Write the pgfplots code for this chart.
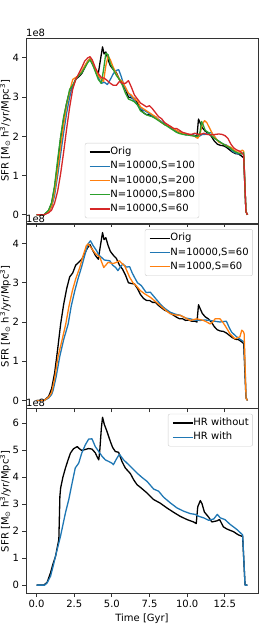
\documentclass[border=0pt]{standalone}
\usepackage{fontspec}
\setmainfont{DejaVu Sans}
\usepackage{pgfplots}
\pgfplotsset{compat=1.18}
\usepackage{pgfplotstable}
\definecolor{c0}{HTML}{1F77B4}
\definecolor{c1}{HTML}{FF7F0E}
\definecolor{c2}{HTML}{2CA02C}
\definecolor{c3}{HTML}{D62728}

\pgfplotstableread{
t v
0 0
0.5 0
0.8 0.1
1.0 0.3
1.2 0.7
1.4 1.3
1.6 1.95
1.8 2.45
2.0 2.85
2.2 3.15
2.4 3.25
2.6 3.45
2.8 3.52
3.0 3.6
3.2 3.75
3.4 3.9
3.55 3.97
3.7 3.85
3.9 3.7
4.1 3.6
4.2 3.85
4.38 4.28
4.48 4.1
4.6 4.15
4.75 3.95
4.9 3.8
5.1 3.7
5.3 3.62
5.5 3.45
5.7 3.35
5.9 3.2
6.1 3.0
6.3 2.98
6.5 2.97
6.7 2.85
6.9 2.7
7.1 2.6
7.3 2.55
7.5 2.55
7.7 2.5
7.9 2.5
8.1 2.42
8.3 2.36
8.5 2.3
8.7 2.27
8.9 2.22
9.1 2.17
9.3 2.12
9.5 2.08
9.7 2.08
9.9 2.04
10.1 2.05
10.3 2.02
10.5 2.02
10.65 2.0
10.75 2.44
10.85 2.35
11.0 2.22
11.2 2.13
11.4 2.08
11.6 2.0
11.8 1.88
12.0 1.8
12.2 1.77
12.4 1.76
12.6 1.72
12.8 1.66
13.0 1.6
13.2 1.56
13.4 1.55
13.6 1.5
13.75 1.45
13.9 0.08
14.0 0
}\orig

\pgfplotstableread{
t v
0 0
0.5 0
0.8 0.06
1.0 0.15
1.1 0.26
1.3 0.6
1.54 1.12
1.8 1.55
2.1 1.95
2.3 2.4
2.54 2.8
2.75 3.1
2.98 3.39
3.2 3.7
3.42 3.99
3.58 4.07
3.75 3.95
3.98 3.82
4.15 3.7
4.3 3.65
4.5 3.58
4.86 3.56
5.05 3.45
5.25 3.39
5.4 3.31
5.6 3.42
5.73 3.48
5.96 3.4
6.18 3.41
6.35 3.25
6.5 3.14
6.7 3.0
6.95 2.93
7.28 2.75
7.55 2.76
7.9 2.6
8.21 2.46
8.5 2.35
8.87 2.25
9.2 2.2
9.54 2.17
9.9 2.1
10.2 2.08
10.5 2.05
10.86 2.04
11.2 2.05
11.5 2.04
11.8 2.02
12.18 2.0
12.6 2.02
12.8 1.85
12.95 1.74
13.29 1.62
13.62 1.53
13.78 1.49
13.91 0.05
14.0 0
}\nsixty

\begin{document}
\begin{tikzpicture}
\pgfplotsset{
  every axis/.append style={
    scale only axis, width=232pt, height=184.67pt,
    xmin=-0.7, xmax=14.7,
    tick align=outside, tick pos=left,
    major tick length=3.5pt,
    axis line style={line width=0.8pt, black!80},
    every tick/.style={line width=0.8pt, black!80},
    xtick={0,2.5,5,7.5,10,12.5},
    /pgf/number format/assume math mode=true,
    tick label style={font=\fontsize{10}{12}\selectfont},
    label style={font=\fontsize{10}{12}\selectfont},
    ylabel={SFR [M\textsubscript{⊙} h\textsuperscript{3}/yr/Mpc\textsuperscript{3}]},
    ylabel style={at={(rel axis cs:0,0.5)}, anchor=south, inner sep=0pt, yshift=15pt},
    legend cell align=left,
    legend style={draw=black!20, rounded corners=2pt, fill=white, fill opacity=0.8, text opacity=1,
      font=\fontsize{10}{12}\selectfont, row sep=4.2pt, inner xsep=4pt, inner ysep=4pt,
      nodes={inner sep=0pt, text height=7.6pt, text depth=2.4pt},
      /tikz/every even column/.append style={column sep=8pt}},
    legend image code/.code={\draw[#1, line width=1.4pt] (0pt,0pt) -- (20pt,0pt);},
    every axis plot/.append style={line width=1.3pt, line join=round},
    after end axis/.code={\node[anchor=south west, inner sep=0pt, yshift=1.5pt, font=\fontsize{10}{12}\selectfont] at (rel axis cs:0,1) {1e8};},
  }
}
\path[use as bounding box] (0,0) rectangle (277pt,638pt);

% Panel 1
\begin{axis}[at={(26pt,414.83pt)}, anchor=south west,
  ymin=-0.214, ymax=4.494, ytick={0,1,2,3,4}, xticklabels={},
  legend style={at={(rel axis cs:0.5,0.027)}, anchor=south}]
\addplot[black] table[x=t,y=v] {\orig};
\addlegendentry{Orig}
\addplot[c0] coordinates {(0,0) (0.5,0) (0.8,0.08) (1.0,0.2) (1.2,0.5) (1.4,1.0) (1.6,1.55) (1.8,2.1) (2.0,2.6) (2.2,3.0) (2.4,3.3) (2.6,3.45) (2.8,3.55) (3.0,3.65) (3.2,3.78) (3.4,3.92) (3.55,3.97) (3.7,3.9) (3.9,3.7) (4.1,3.5) (4.3,3.35) (4.5,3.38) (4.7,3.32) (4.9,3.45) (5.1,3.6) (5.3,3.68) (5.45,3.7) (5.6,3.55) (5.8,3.3) (6.0,3.15) (6.2,3.05) (6.4,2.95) (6.6,2.85) (6.8,2.75) (7.0,2.68) (7.2,2.65) (7.4,2.6) (7.6,2.55) (7.8,2.5) (8.0,2.45) (8.2,2.4) (8.4,2.35) (8.6,2.3) (8.8,2.27) (9.0,2.2) (9.2,2.15) (9.4,2.12) (9.6,2.1) (9.8,2.05) (10.0,2.05) (10.2,2.02) (10.4,2.05) (10.6,1.97) (10.8,2.0) (11.0,2.05) (11.2,2.05) (11.4,2.08) (11.6,2.1) (11.8,2.0) (12.0,1.9) (12.2,1.85) (12.4,1.8) (12.6,1.78) (12.8,1.72) (13.0,1.62) (13.2,1.58) (13.4,1.55) (13.6,1.57) (13.75,1.55) (13.9,0.08) (14.0,0)};
\addlegendentry{N=10000,S=100}
\addplot[c1] coordinates {(0,0) (0.5,0) (0.8,0.08) (1.0,0.22) (1.2,0.6) (1.4,1.15) (1.6,1.75) (1.8,2.3) (2.0,2.8) (2.2,3.15) (2.4,3.45) (2.6,3.5) (2.8,3.55) (3.0,3.65) (3.2,3.8) (3.4,3.92) (3.55,3.98) (3.7,3.88) (3.9,3.7) (4.1,3.55) (4.3,3.45) (4.45,3.4) (4.6,3.8) (4.75,4.05) (4.9,3.95) (5.1,3.75) (5.3,3.6) (5.5,3.45) (5.7,3.4) (5.9,3.25) (6.1,3.1) (6.3,3.05) (6.5,2.95) (6.7,2.9) (6.9,2.75) (7.1,2.7) (7.3,2.65) (7.5,2.6) (7.7,2.55) (7.9,2.5) (8.1,2.42) (8.3,2.35) (8.5,2.3) (8.7,2.28) (8.9,2.25) (9.1,2.2) (9.3,2.15) (9.5,2.1) (9.7,2.08) (9.9,2.05) (10.1,2.05) (10.3,2.03) (10.5,2.0) (10.7,1.95) (10.85,2.05) (11.0,2.3) (11.15,2.4) (11.3,2.35) (11.5,2.2) (11.7,2.05) (11.9,1.95) (12.1,1.85) (12.3,1.82) (12.5,1.78) (12.7,1.75) (12.9,1.72) (13.1,1.65) (13.3,1.6) (13.5,1.6) (13.65,1.65) (13.75,1.62) (13.9,0.08) (14.0,0)};
\addlegendentry{N=10000,S=200}
\addplot[c2] coordinates {(0,0) (0.5,0) (0.8,0.12) (1.0,0.3) (1.2,0.75) (1.4,1.4) (1.6,2.0) (1.8,2.5) (2.0,2.85) (2.2,3.2) (2.4,3.3) (2.6,3.45) (2.8,3.55) (3.0,3.62) (3.2,3.75) (3.4,3.88) (3.55,3.95) (3.7,3.85) (3.9,3.65) (4.1,3.45) (4.3,3.35) (4.45,3.7) (4.6,4.12) (4.75,4.08) (4.9,3.85) (5.1,3.7) (5.3,3.55) (5.5,3.45) (5.7,3.3) (5.9,3.1) (6.1,2.95) (6.3,2.92) (6.5,2.88) (6.7,2.8) (6.9,2.65) (7.1,2.6) (7.3,2.55) (7.5,2.52) (7.7,2.5) (7.9,2.45) (8.1,2.4) (8.3,2.35) (8.5,2.3) (8.7,2.25) (8.9,2.2) (9.1,2.15) (9.3,2.1) (9.5,2.07) (9.7,2.05) (9.9,2.04) (10.1,2.03) (10.3,2.02) (10.5,2.0) (10.7,2.0) (10.85,2.1) (10.95,2.38) (11.05,2.3) (11.2,2.15) (11.4,2.1) (11.6,2.02) (11.8,1.95) (12.0,1.9) (12.2,1.85) (12.4,1.8) (12.6,1.75) (12.8,1.72) (13.0,1.65) (13.2,1.6) (13.4,1.57) (13.6,1.55) (13.75,1.58) (13.9,0.08) (14.0,0)};
\addlegendentry{N=10000,S=800}
\addplot[c3] coordinates {(0,0) (0.5,0) (0.8,0.05) (1.0,0.12) (1.2,0.3) (1.4,0.6) (1.6,1.05) (1.8,1.6) (2.0,2.2) (2.2,2.75) (2.4,3.2) (2.6,3.45) (2.8,3.6) (3.0,3.75) (3.2,3.92) (3.4,4.0) (3.55,4.03) (3.7,3.95) (3.9,3.75) (4.1,3.6) (4.3,3.5) (4.5,3.48) (4.7,3.42) (4.9,3.35) (5.1,3.3) (5.3,3.3) (5.5,3.4) (5.7,3.35) (5.9,3.35) (6.1,3.42) (6.3,3.25) (6.5,3.05) (6.7,2.95) (6.9,2.85) (7.1,2.8) (7.3,2.75) (7.5,2.78) (7.7,2.7) (7.9,2.6) (8.1,2.5) (8.3,2.45) (8.5,2.35) (8.7,2.3) (8.9,2.25) (9.1,2.2) (9.3,2.2) (9.5,2.15) (9.7,2.1) (9.9,2.08) (10.1,2.05) (10.3,2.05) (10.5,2.08) (10.7,2.05) (10.9,2.05) (11.1,2.08) (11.3,2.05) (11.5,2.04) (11.7,2.04) (11.9,2.05) (12.1,2.06) (12.3,2.05) (12.5,2.02) (12.7,1.95) (12.9,1.8) (13.1,1.7) (13.3,1.65) (13.5,1.62) (13.7,1.55) (13.75,1.5) (13.9,0.08) (14.0,0)};
\addlegendentry{N=10000,S=60}
\end{axis}

% Panel 2
\begin{axis}[at={(26pt,229.17pt)}, anchor=south west,
  ymin=-0.214, ymax=4.494, ytick={0,1,2,3,4}, xticklabels={},
  legend style={at={(rel axis cs:0.978,0.973)}, anchor=north east}]
\addplot[black] table[x=t,y=v] {\orig};
\addlegendentry{Orig}
\addplot[c0] table[x=t,y=v] {\nsixty};
\addlegendentry{N=10000,S=60}
\addplot[c1] coordinates {(0,0) (0.5,0) (0.8,0.08) (1.0,0.2) (1.2,0.55) (1.43,1.12) (1.7,1.55) (1.94,1.95) (2.15,2.4) (2.38,2.8) (2.6,3.1) (2.87,3.39) (3.1,3.7) (3.31,3.95) (3.42,3.99) (3.6,3.9) (3.9,3.75) (4.2,3.65) (4.46,3.39) (4.6,3.45) (4.75,3.52) (5.08,3.49) (5.3,3.52) (5.5,3.56) (5.65,3.5) (5.85,3.43) (6.0,3.3) (6.18,3.14) (6.4,3.0) (6.6,2.93) (6.89,2.8) (7.17,2.72) (7.55,2.63) (7.9,2.52) (8.21,2.42) (8.5,2.32) (8.87,2.21) (9.2,2.18) (9.54,2.17) (9.9,2.1) (10.2,2.04) (10.64,2.08) (11.08,2.04) (11.3,2.0) (11.52,1.95) (11.7,2.0) (11.85,2.08) (12.18,2.08) (12.35,2.0) (12.51,1.91) (12.84,1.7) (13.17,1.57) (13.35,1.6) (13.5,1.62) (13.62,1.79) (13.72,1.76) (13.78,1.7) (13.91,0.05) (14.0,0)};
\addlegendentry{N=1000,S=60}
\end{axis}

% Panel 3
\begin{axis}[at={(26pt,44.5pt)}, anchor=south west,
  ymin=-0.311, ymax=6.531, ytick={0,1,2,3,4,5,6},
  xticklabels={0.0,2.5,5.0,7.5,10.0,12.5},
  xlabel={Time [Gyr]},
  xlabel style={inner sep=0pt, yshift=-2pt},
  legend style={at={(rel axis cs:0.978,0.973)}, anchor=north east}]
\addplot[black] coordinates {(0,0) (0.48,0) (0.7,0.1) (0.93,0.46) (1.1,0.8) (1.26,1.07) (1.48,1.69) (1.52,2.6) (1.55,3.29) (1.6,3.6) (1.75,4.0) (1.92,4.34) (2.1,4.65) (2.25,4.89) (2.45,5.05) (2.6,5.1) (2.7,5.13) (2.85,5.05) (3.0,4.99) (3.2,5.02) (3.46,5.06) (3.68,5.04) (3.9,4.9) (4.05,4.72) (4.13,4.64) (4.2,5.0) (4.3,5.8) (4.38,6.22) (4.5,5.95) (4.64,5.75) (4.9,5.32) (5.05,5.1) (5.23,4.95) (5.45,4.92) (5.67,4.58) (5.89,4.34) (6.23,4.13) (6.45,3.9) (6.67,3.72) (6.9,3.62) (7.34,3.41) (7.77,3.17) (8.2,3.04) (8.65,2.86) (9.09,2.7) (9.53,2.55) (9.98,2.43) (10.42,2.34) (10.6,2.28) (10.7,2.9) (10.87,3.13) (10.98,3.02) (11.14,2.71) (11.42,2.52) (11.64,2.34) (11.97,2.38) (12.15,2.43) (12.4,2.16) (12.63,2.08) (13.07,1.98) (13.4,1.86) (13.68,1.8) (13.84,0) (14.0,0)};
\addlegendentry{HR without}
\addplot[c0] coordinates {(0,0) (0.54,0) (0.7,0.08) (0.93,0.33) (1.1,0.7) (1.26,1.07) (1.59,1.81) (1.92,2.68) (2.14,3.17) (2.36,3.78) (2.57,4.34) (2.8,4.52) (3.0,4.89) (3.24,5.2) (3.46,5.41) (3.68,5.42) (3.9,5.13) (4.13,4.95) (4.35,4.77) (4.57,4.64) (4.79,4.58) (5.0,4.52) (5.1,4.46) (5.3,4.67) (5.5,4.85) (5.78,4.64) (6.23,4.4) (6.67,4.15) (7.0,3.99) (7.34,3.84) (7.77,3.56) (8.1,3.48) (8.43,3.26) (8.87,3.05) (9.32,2.86) (9.76,2.74) (10.2,2.65) (10.53,2.62) (10.76,2.55) (11.1,2.49) (11.43,2.4) (11.76,2.45) (12.0,2.62) (12.2,2.49) (12.5,2.43) (12.85,2.25) (13.3,2.06) (13.68,1.86) (13.84,0) (14.0,0)};
\addlegendentry{HR with}
\end{axis}
\end{tikzpicture}
\end{document}
